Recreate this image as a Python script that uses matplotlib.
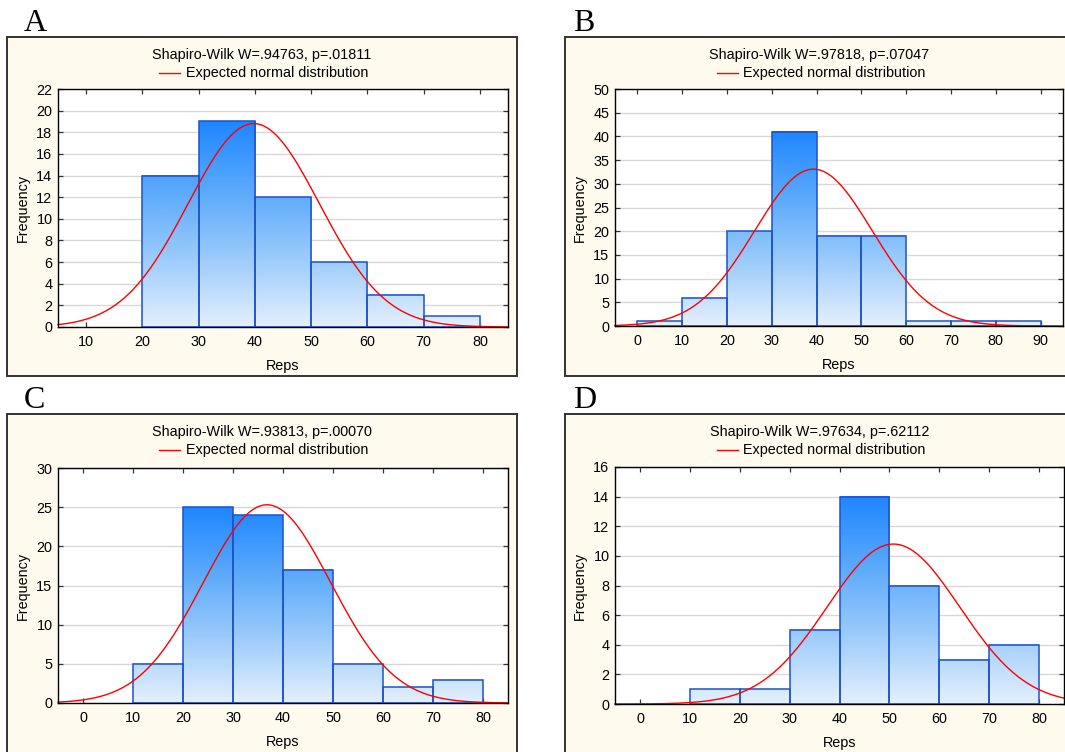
import numpy as np
import matplotlib
matplotlib.use("Agg")
import matplotlib.pyplot as plt
from matplotlib.colors import LinearSegmentedColormap
from matplotlib.lines import Line2D
from matplotlib.patches import Rectangle

plt.rcParams['font.family'] = ['Liberation Sans', 'DejaVu Sans']

# values
panels = ["A", "B", "C", "D"]
sw_text = [
    "Shapiro-Wilk W=.94763, p=.01811",
    "Shapiro-Wilk W=.97818, p=.07047",
    "Shapiro-Wilk W=.93813, p=.00070",
    "Shapiro-Wilk W=.97634, p=.62112",
]
bin_left = [
    [20, 30, 40, 50, 60, 70],
    [0, 10, 20, 30, 40, 50, 60, 70, 80],
    [10, 20, 30, 40, 50, 60, 70],
    [10, 20, 30, 40, 50, 60, 70],
]
counts = [
    [14, 19, 12, 6, 3, 1],
    [1, 6, 20, 41, 19, 19, 1, 1, 1],
    [5, 25, 24, 17, 5, 2, 3],
    [1, 1, 5, 14, 8, 3, 4],
]
bin_width = 10
# expected normal: mean, sd (estimated from the curve peak)
norm_mean = [39.8, 39.3, 36.8, 50.8]
norm_sd = [11.67, 13.14, 12.77, 13.3]
x_limits = [(5, 85), (-5, 95), (-5, 85), (-5, 85)]
x_ticks = [range(10, 81, 10), range(0, 91, 10), range(0, 81, 10), range(0, 81, 10)]
y_max = [22, 50, 30, 16]
y_step = [2, 5, 5, 2]

W, H = 1065, 752
# pixel layout: axes box, frame box, letter position, text centre x
axes_px = [(58, 89, 508, 327), (615, 89, 1063, 326), (58, 468, 508, 703), (615, 467, 1064, 704)]
frame_px = [(7, 37, 517, 376), (565, 37, 1074, 376), (7, 414, 517, 780), (565, 414, 1074, 780)]
letter_px = [(24, 31), (573, 31), (24, 408), (573, 408)]
title_y = [55, 55, 432, 432]
ylabel_x = [30, 587, 30, 587]

cream = "#FFFAEE"
grad = LinearSegmentedColormap.from_list("g", ["#E4F0FD", "#9CCBFB", "#5AA9FB", "#1F86FF"])
fs = 10.4

fig = plt.figure(figsize=(W / 100, H / 100), dpi=100)
fig.patch.set_facecolor("white")


def fx(x):
    return x / W


def fy(y):
    return 1 - y / H


for i in range(4):
    fx0, fy0, fx1, fy1 = frame_px[i]
    fig.add_artist(Rectangle((fx(fx0), fy(fy1)), (fx1 - fx0) / W, (fy1 - fy0) / H,
                             transform=fig.transFigure, facecolor=cream,
                             edgecolor="#333333", lw=1.4, zorder=0))
    fig.text(fx(letter_px[i][0]), fy(letter_px[i][1]), panels[i],
             family=["Liberation Serif", "DejaVu Serif"], fontsize=23,
             ha="left", va="baseline")

    cx = (fx0 + fx1) / 2
    fig.text(fx(cx), fy(title_y[i]), sw_text[i], fontsize=fs, ha="center", va="center")
    fig.text(fx(cx + 15), fy(title_y[i] + 18), "Expected normal distribution",
             fontsize=fs, ha="center", va="center")
    fig.add_artist(Line2D([fx(cx - 103), fx(cx - 82)], [fy(title_y[i] + 18)] * 2,
                          transform=fig.transFigure, color="red", lw=1.0))

    x0, y0, x1, y1 = axes_px[i]
    ax = fig.add_axes([fx(x0), fy(y1), (x1 - x0) / W, (y1 - y0) / H])
    ax.set_facecolor("white")

    top = max(counts[i])
    for left, c in zip(bin_left[i], counts[i]):
        g = np.linspace(0, c / top, 256).reshape(-1, 1)
        ax.imshow(g, cmap=grad, vmin=0, vmax=1, origin="lower", aspect="auto",
                  extent=[left, left + bin_width, 0, c], zorder=2, interpolation="bilinear")
    ax.bar(bin_left[i], counts[i], width=bin_width, align="edge", fill=False,
           edgecolor="#1C52CC", lw=1.1, zorder=3)

    xs = np.linspace(x_limits[i][0], x_limits[i][1], 500)
    n = sum(counts[i])
    ys = n * bin_width / (norm_sd[i] * np.sqrt(2 * np.pi)) * np.exp(-0.5 * ((xs - norm_mean[i]) / norm_sd[i]) ** 2)
    ax.plot(xs, ys, color="red", lw=1.0, zorder=4, clip_on=False)

    ax.set_xlim(*x_limits[i])
    ax.set_ylim(0, y_max[i])
    ax.set_xticks(list(x_ticks[i]))
    ax.set_yticks(range(0, y_max[i] + 1, y_step[i]))
    ax.yaxis.grid(True, color="#D8D8D8", lw=1.0)
    ax.set_axisbelow(True)
    ax.tick_params(direction="in", length=3.5, width=0.9, color="#333333",
                   top=True, right=True, labelsize=fs, pad=4)
    ax.tick_params(axis="x", pad=6)
    for s in ax.spines.values():
        s.set_color("black")
        s.set_linewidth(1.0)
        s.set_zorder(5)

    ax.set_xlabel("Reps", fontsize=fs, labelpad=7)
    ax.set_ylabel("Frequency", fontsize=fs)
    ax.yaxis.set_label_coords((ylabel_x[i] - x0) / (x1 - x0), 0.5)

fig.savefig("out.png", dpi=100, facecolor="white")
